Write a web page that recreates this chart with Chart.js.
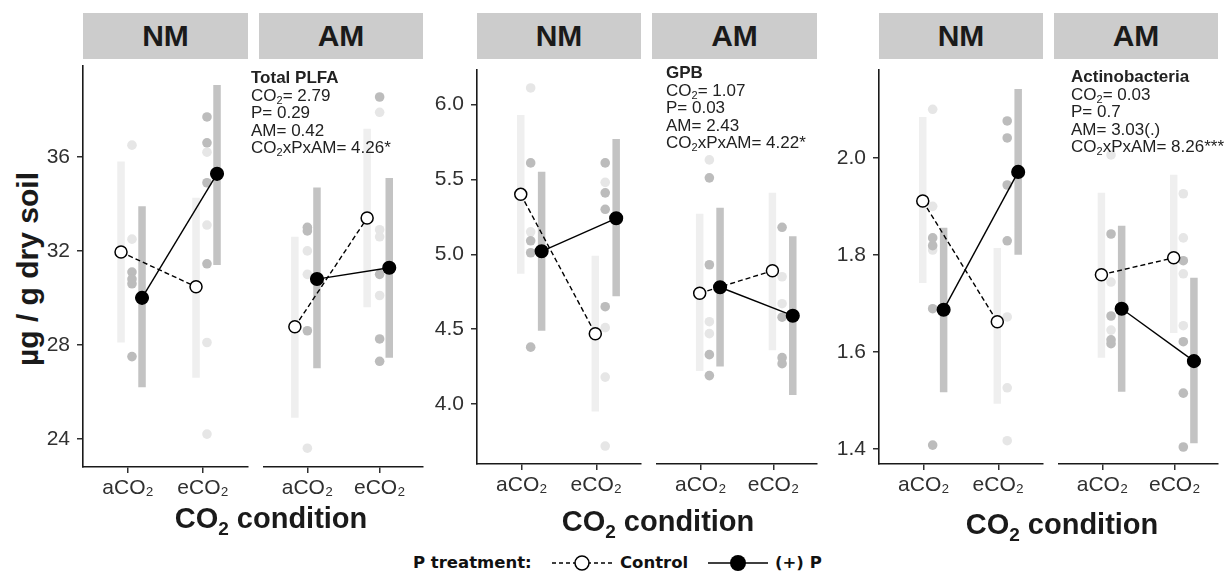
<!DOCTYPE html>
<html>
<head>
<meta charset="utf-8">
<script src="https://cdn.jsdelivr.net/npm/chart.js@4.4.1/dist/chart.umd.min.js"></script>
<style>
  body { margin: 0; width: 1228px; height: 582px; background: #fff; position: relative; overflow: hidden;
         font-family: "Liberation Sans", Arial, sans-serif; color: #1a1a1a; }
  .abs { position: absolute; white-space: nowrap; }
  .strip { background: #cccccc; font-weight: bold; font-size: 30px; display: flex; align-items: center; justify-content: center; }
  .stats { font-size: 17px; line-height: 17.5px; color: #222; }
  .stats sub { font-size: 11px; vertical-align: -3px; line-height: 0; }
  .title { font-weight: bold; font-size: 29px; transform: translate(-50%, -50%); }
  .title sub { font-size: 19px; vertical-align: -7px; line-height: 0; }
  .legend { font: bold 16.5px "DejaVu Sans", sans-serif; line-height: 20px; top: 553px; color: #111; }
</style>
</head>
<body>
<div class="abs title" style="left:28px;top:269px;transform:translate(-50%,-50%) rotate(-90deg);font-size:30px">µg / g dry soil</div>
<div class="abs legend" style="left:413px">P treatment:</div>
<svg class="abs" style="left:550px;top:553px" width="66" height="20">
  <line x1="2" y1="10" x2="64" y2="10" stroke="#000" stroke-width="1.5" stroke-dasharray="4,3"/>
  <circle cx="32" cy="10" r="7" fill="#fff" stroke="#000" stroke-width="1.5"/>
</svg>
<div class="abs legend" style="left:620px">Control</div>
<svg class="abs" style="left:706px;top:553px" width="64" height="20">
  <line x1="2" y1="10" x2="62" y2="10" stroke="#000" stroke-width="1.5"/>
  <circle cx="32" cy="10" r="8" fill="#000"/>
</svg>
<div class="abs legend" style="left:775px">(+) P</div>

<script>
const $ = document;

const categories = ['aCO₂', 'eCO₂'];
const facets = ['NM', 'AM'];
const statLabels = ['CO<sub>2</sub>', 'P', 'AM', 'CO<sub>2</sub>xPxAM'];

// Total PLFA   (outer: NM, AM / inner: aCO2, eCO2)
const plfaCtrlMean = [[31.95, 30.47], [28.77, 33.40]];
const plfaPMean = [[30.00, 35.28], [30.80, 31.28]];
const plfaCtrlRange = [[[28.1, 35.8], [26.6, 34.26]], [[24.9, 32.6], [29.6, 37.2]]];
const plfaPRange = [[[26.2, 33.9], [31.4, 39.06]], [[27.0, 34.7], [27.45, 35.1]]];
const plfaCtrlRaw = [[[36.5, 32.5], [36.2, 33.1, 28.1, 24.2]], [[32.0, 31.0, 23.6], [37.9, 32.9, 32.6, 30.1]]];
const plfaPRaw = [[[31.1, 30.8, 30.6, 27.5], [37.7, 36.6, 34.9, 31.45]], [[33.0, 32.85, 28.6], [38.55, 31.0, 28.25, 27.3]]];
const plfaTicks = ['24', '28', '32', '36'];
const plfaStats = ['2.79', '0.29', '0.42', '4.26*'];

// GPB
const gpbCtrlMean = [[5.40, 4.47], [4.74, 4.89]];
const gpbPMean = [[5.02, 5.24], [4.78, 4.59]];
const gpbCtrlRange = [[[4.87, 5.93], [3.95, 4.99]], [[4.22, 5.27], [4.36, 5.41]]];
const gpbPRange = [[[4.49, 5.55], [4.72, 5.77]], [[4.25, 5.31], [4.06, 5.12]]];
const gpbCtrlRaw = [[[6.11, 5.15], [5.48, 4.51, 4.18, 3.72]], [[5.63, 4.55, 4.47], [4.85, 4.67]]];
const gpbPRaw = [[[5.61, 5.09, 5.01, 4.38], [5.61, 5.41, 5.30, 4.65]], [[5.51, 4.93, 4.33, 4.19], [5.18, 4.58, 4.31, 4.27]]];
const gpbTicks = ['4.0', '4.5', '5.0', '5.5', '6.0'];
const gpbStats = ['1.07', '0.03', '2.43', '4.22*'];

// Actinobacteria
const actCtrlMean = [[1.911, 1.662], [1.759, 1.794]];
const actPMean = [[1.687, 1.971], [1.689, 1.581]];
const actCtrlRange = [[[1.742, 2.084], [1.493, 1.814]], [[1.588, 1.928], [1.639, 1.965]]];
const actPRange = [[[1.517, 1.856], [1.80, 2.142]], [[1.518, 1.86], [1.412, 1.753]]];
const actCtrlRaw = [[[2.10, 1.90, 1.81], [1.672, 1.526, 1.417]], [[2.006, 1.744, 1.645], [1.926, 1.835, 1.761, 1.654]]];
const actPRaw = [[[1.835, 1.819, 1.689, 1.408], [2.076, 2.041, 1.944, 1.829]], [[1.843, 1.674, 1.625, 1.617], [1.788, 1.621, 1.515, 1.404]]];
const actTicks = ['1.4', '1.6', '1.8', '2.0'];
const actStats = ['0.03', '0.7', '3.03(.)', '8.26***'];

// panel layout (pixels) + dodge offsets (category units: control, +P, raw dots)
const panels = [
  { name: 'Total PLFA', stats: plfaStats, ticks: plfaTicks, yMin: 22.8, yMax: 39.87,
    ctrlMean: plfaCtrlMean, pMean: plfaPMean, ctrlRange: plfaCtrlRange, pRange: plfaPRange, ctrlRaw: plfaCtrlRaw, pRaw: plfaPRaw,
    top: 66, bottom: 467, lefts: [83, 259], widths: [165, 164],
    offsets: [[-0.093, 0.187, 0.053], [-0.173, 0.133, 0]], statPos: [251, 69], titlePos: [271, 518] },
  { name: 'GPB', stats: gpbStats, ticks: gpbTicks, yMin: 3.6, yMax: 6.23,
    ctrlMean: gpbCtrlMean, pMean: gpbPMean, ctrlRange: gpbCtrlRange, pRange: gpbPRange, ctrlRaw: gpbCtrlRaw, pRaw: gpbPRaw,
    top: 70, bottom: 464, lefts: [477, 652], widths: [164, 165],
    offsets: [[-0.013, 0.267, 0.12], [-0.013, 0.267, 0.12]], statPos: [666, 64], titlePos: [658, 521] },
  { name: 'Actinobacteria', stats: actStats, ticks: actTicks, yMin: 1.369, yMax: 2.181,
    ctrlMean: actCtrlMean, pMean: actPMean, ctrlRange: actCtrlRange, pRange: actPRange, ctrlRaw: actCtrlRaw, pRaw: actPRaw,
    top: 70, bottom: 464, lefts: [879, 1054], widths: [164, 164],
    offsets: [[-0.013, 0.267, 0.12], [-0.013, 0.267, 0.12]], statPos: [1071, 68], titlePos: [1062, 524] }
];

const tickColor = '#303030';
Chart.defaults.font.family = '"Liberation Sans", Arial, sans-serif';

// helpers to turn the arrays into points

const barData = (ranges, off) => ranges.flatMap((r, i) => [
  { x: i + 1 + off, y: r[0] }, { x: i + 1 + off, y: r[1] }, { x: i + 1 + off, y: null }
]);
const rawData = (raw, off) => raw.flatMap((vals, i) => vals.map((v) => ({ x: i + 1 + off, y: v })));
const meanData = (means, off) => means.map((v, i) => ({ x: i + 1 + off, y: v }));

const addDiv = (cls, css, html) => {
  const d = $.createElement('div');
  d.className = 'abs ' + cls;
  d.style.cssText = css;
  d.innerHTML = html;
  $.body.appendChild(d);
};

const makeFacet = (p, f) => {
  const isNM = f === 0;
  const padL = isNM ? 80 : 5;
  const w = padL + p.widths[f] + 5;
  const h = 20 + (p.bottom - p.top) + 45;
  const canvas = $.createElement('canvas');
  canvas.width = w;
  canvas.height = h;
  canvas.className = 'abs';
  canvas.style.cssText = `left:${p.lefts[f] - padL}px;top:${p.top - 20}px;width:${w}px;height:${h}px`;
  $.body.appendChild(canvas);
  const [oc, op, od] = p.offsets[f];

  new Chart(canvas, {
    type: 'line',
    data: {
      datasets: [
        { data: barData(p.ctrlRange[f], oc), borderColor: '#efefef', borderWidth: 7.5, borderCapStyle: 'butt', pointRadius: 0, order: 6 },
        { data: barData(p.pRange[f], op), borderColor: '#c3c3c3', borderWidth: 7.5, borderCapStyle: 'butt', pointRadius: 0, order: 5 },
        { data: rawData(p.ctrlRaw[f], od), showLine: false, pointRadius: 4.8, pointBorderWidth: 0, pointBackgroundColor: '#e6e6e6', order: 4 },
        { data: rawData(p.pRaw[f], od), showLine: false, pointRadius: 4.8, pointBorderWidth: 0, pointBackgroundColor: '#bcbcbc', order: 3 },
        { label: 'Control', data: meanData(p.ctrlMean[f], oc), borderColor: '#000', borderWidth: 1.4, borderDash: [5, 3],
          pointRadius: 6, pointBorderWidth: 1.5, pointBorderColor: '#000', pointBackgroundColor: '#fff', order: 1 },
        { label: '(+) P', data: meanData(p.pMean[f], op), borderColor: '#000', borderWidth: 1.4,
          pointRadius: 6.3, pointBorderWidth: 1.5, pointBorderColor: '#000', pointBackgroundColor: '#000', order: 0 }
      ]
    },
    options: {
      responsive: false,
      animation: false,
      devicePixelRatio: 1,
      layout: { padding: { left: isNM ? 0 : padL, right: 5, top: 20, bottom: 0 }, autoPadding: false },
      plugins: { legend: { display: false }, tooltip: { enabled: false } },
      scales: {
        x: {
          type: 'linear', min: 0.4, max: 2.6,
          afterBuildTicks: (s) => { s.ticks = categories.map((c, i) => ({ value: i + 1 })); },
          afterFit: (s) => { s.height = 45; },
          ticks: { callback: (v) => categories[Math.round(v) - 1], font: { size: 21 }, color: tickColor, padding: 3, maxRotation: 0, autoSkip: false },
          grid: { drawOnChartArea: false, tickLength: 6, color: tickColor, lineWidth: 1.5 },
          border: { color: '#1a1a1a', width: 1.6 }
        },
        y: {
          display: isNM, min: p.yMin, max: p.yMax,
          afterBuildTicks: (s) => { s.ticks = p.ticks.map((t) => ({ value: +t })); },
          afterFit: (s) => { s.width = padL; },
          ticks: { callback: (v, i) => p.ticks[i], font: { size: 21 }, color: tickColor, padding: 7 },
          grid: { drawOnChartArea: false, tickLength: 6, color: tickColor, lineWidth: 1.5 },
          border: { color: '#1a1a1a', width: 1.6 }
        }
      }
    }
  });
};

panels.forEach((p) => {
  facets.forEach((name, f) => {
    addDiv('strip', `left:${p.lefts[f]}px;top:13px;width:${p.widths[f]}px;height:46px`, name);
    makeFacet(p, f);
  });
  const lines = ['<b>' + p.name + '</b>'].concat(statLabels.map((l, i) => l + '= ' + p.stats[i]));
  addDiv('stats', `left:${p.statPos[0]}px;top:${p.statPos[1]}px`, lines.join('<br>'));
  addDiv('title', `left:${p.titlePos[0]}px;top:${p.titlePos[1]}px`, 'CO<sub>2</sub> condition');
});
</script>
</body>
</html>
